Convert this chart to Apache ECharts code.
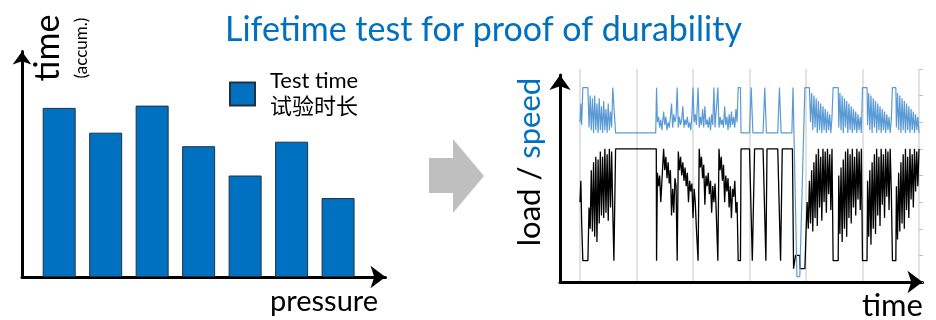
<!DOCTYPE html>
<html>
<head>
<meta charset="utf-8">
<script src="https://cdn.jsdelivr.net/npm/echarts@6/dist/echarts.min.js"></script>
<style>
  html, body { margin: 0; padding: 0; background: #fff; }
  #chart { width: 936px; height: 320px; }
</style>
</head>
<body>
<div id="chart"></div>
<script>
// left: accumulated test time per pressure level
const pressureLevels = [1, 2, 3, 4, 5, 6, 7];
const testTime = [75, 64, 76, 58, 45, 60, 35];

// right: load / speed signal over time, [time, value]
const loadPoints = [
  [0, 30], [0.15, 38], [0.3, 22], [0.5, 8], [1.4, 8], [1.6, 28], [1.8, 20], [2.0, 42], [2.2, 19], [2.4, 45],
  [2.6, 17], [2.8, 47], [3.0, 15], [3.2, 46], [3.4, 22], [3.6, 49], [3.8, 25], [4.0, 47], [4.2, 24], [4.4, 50],
  [4.6, 26], [4.8, 48], [5.0, 23], [5.2, 50], [5.4, 28], [5.6, 49], [5.8, 27], [6.0, 8], [6.2, 8], [6.3, 50],
  [13.5, 50], [13.55, 8], [13.7, 41],
  [13.9, 36], [14.1, 40], [14.3, 30], [14.5, 38], [14.8, 50], [15.0, 42], [15.2, 47], [15.4, 39], [15.6, 45], [15.8, 37],
  [16.0, 42], [16.2, 25], [16.4, 35], [16.6, 26], [16.8, 39], [17.0, 36], [17.2, 8], [17.4, 49], [17.6, 42], [17.8, 47],
  [18.0, 40], [18.2, 45], [18.4, 38], [18.6, 43], [18.8, 36], [19.0, 41], [19.2, 30], [19.4, 38], [19.6, 34], [19.8, 37],
  [20.0, 24], [20.2, 35], [20.4, 30], [20.6, 20], [20.9, 8], [21.1, 50], [21.3, 43], [21.5, 47], [21.7, 39], [21.9, 44],
  [22.1, 29], [22.3, 40], [22.5, 36], [22.7, 41], [22.9, 33], [23.1, 38], [23.3, 26], [23.5, 36], [23.7, 30], [23.9, 37],
  [24.1, 27], [24.4, 8], [24.6, 50], [24.8, 42], [25.0, 47], [25.2, 38], [25.4, 44], [25.6, 30], [25.8, 40], [26.0, 34],
  [26.2, 39], [26.4, 28], [26.6, 36], [26.8, 24], [27.0, 35], [27.2, 32], [27.4, 38], [27.6, 26], [27.8, 30], [28.0, 8],
  [28.4, 8], [28.5, 50],
  [30.0, 50], [30.5, 8], [30.8, 8], [30.9, 50], [32.4, 50], [32.9, 8], [33.0, 8], [33.1, 50], [35.0, 50], [35.5, 8],
  [35.7, 8], [35.8, 50], [37.6, 50], [37.8, 5], [38.1, 5], [38.15, 10], [38.9, 10], [38.95, 5], [39.8, 5], [40.0, 18],
  [40.2, 30],
  [40.4, 20], [40.6, 38], [40.8, 22], [41.0, 42], [41.2, 19], [41.4, 45], [41.6, 24], [41.8, 48], [42.0, 21], [42.2, 50],
  [42.4, 28], [42.6, 47], [42.8, 23], [43.0, 50], [43.2, 30], [43.4, 49], [43.6, 26], [43.8, 50], [44.0, 33], [44.2, 48],
  [44.4, 27], [44.6, 50], [44.8, 8], [45.7, 8],
  [45.8, 40], [46.0, 18], [46.2, 43], [46.4, 15], [46.6, 46], [46.8, 20], [47.0, 49], [47.2, 17], [47.4, 50], [47.6, 24],
  [47.8, 48], [48.0, 22], [48.2, 50], [48.4, 28], [48.6, 47], [48.8, 25], [49.0, 50], [49.2, 31], [49.4, 49], [49.6, 27],
  [49.8, 50], [50.0, 8], [50.8, 8],
  [50.9, 38], [51.1, 17], [51.3, 42], [51.5, 14], [51.7, 45], [51.9, 20], [52.1, 48], [52.3, 18], [52.5, 50], [52.7, 25],
  [52.9, 47], [53.1, 21], [53.3, 50], [53.5, 29], [53.7, 48], [53.9, 24], [54.1, 50], [54.3, 32], [54.5, 49], [54.7, 27],
  [54.9, 50], [55.1, 34], [55.3, 8], [55.9, 8],
  [56.0, 36], [56.2, 16], [56.4, 41], [56.6, 19], [56.8, 45], [57.0, 22], [57.2, 48], [57.4, 20], [57.6, 50], [57.8, 27],
  [58.0, 47], [58.2, 24], [58.4, 50], [58.6, 31], [58.8, 48], [59.0, 28], [59.2, 50], [59.4, 34], [59.6, 49], [59.8, 36],
  [60.0, 50]
];

const speedPoints = [
  [0, 60], [0.15, 67], [0.3, 59], [0.5, 73], [1.4, 73], [1.6, 58], [1.8, 70], [2.0, 57], [2.2, 69], [2.4, 56],
  [2.6, 70], [2.8, 57], [3.0, 67], [3.2, 56], [3.4, 69], [3.6, 57], [3.8, 66], [4.0, 56], [4.2, 68], [4.4, 57],
  [4.6, 65], [4.8, 56], [5.0, 67], [5.2, 57], [5.4, 64], [5.6, 58], [5.8, 73], [6.1, 73], [6.3, 56],
  [13.4, 56], [13.55, 73], [13.7, 60],
  [13.9, 62], [14.1, 58], [14.3, 61], [14.5, 57], [14.8, 64], [15.0, 59], [15.2, 62], [15.4, 57], [15.6, 60], [15.8, 58],
  [16.0, 62], [16.2, 67], [16.4, 58], [16.6, 63], [16.8, 60], [17.0, 62], [17.2, 73], [17.4, 58], [17.6, 62], [17.8, 59],
  [18.0, 61], [18.2, 66], [18.4, 58], [18.6, 61], [18.8, 59], [19.0, 62], [19.2, 58], [19.4, 60], [19.6, 57], [19.8, 62],
  [20.0, 73], [20.2, 60], [20.4, 63], [20.6, 59], [20.9, 73], [21.1, 58], [21.3, 62], [21.5, 59], [21.7, 65], [21.9, 58],
  [22.1, 66], [22.3, 59], [22.5, 61], [22.7, 58], [22.9, 62], [23.1, 57], [23.3, 63], [23.5, 59], [23.7, 73], [23.9, 58],
  [24.1, 64], [24.4, 73], [24.6, 58], [24.8, 62], [25.0, 59], [25.2, 61], [25.4, 58], [25.6, 66], [25.8, 59], [26.0, 62],
  [26.2, 57], [26.4, 63], [26.6, 58], [26.8, 64], [27.0, 59], [27.2, 62], [27.4, 58], [27.6, 65], [27.8, 60], [28.0, 73],
  [28.4, 73], [28.5, 56],
  [30.0, 56], [30.3, 73], [30.6, 56], [32.4, 56], [32.7, 73], [33.0, 56], [35.0, 56], [35.3, 73], [35.6, 56], [37.5, 56],
  [37.7, 73], [38.4, 2], [38.9, 2], [39.8, 73], [40.6, 73],
  [40.8, 60], [41.0, 71], [41.2, 57], [41.4, 70], [41.6, 58], [41.8, 69], [42.0, 56], [42.2, 68], [42.4, 57], [42.6, 67],
  [42.8, 56], [43.0, 66], [43.2, 57], [43.4, 65], [43.6, 56], [43.8, 64], [44.0, 57], [44.2, 63], [44.4, 56], [44.6, 62],
  [44.8, 73], [45.7, 73],
  [45.8, 58], [46.0, 71], [46.2, 57], [46.4, 70], [46.6, 56], [46.8, 69], [47.0, 58], [47.2, 68], [47.4, 56], [47.6, 67],
  [47.8, 57], [48.0, 66], [48.2, 56], [48.4, 65], [48.6, 57], [48.8, 64], [49.0, 56], [49.2, 63], [49.4, 57], [49.6, 62],
  [49.8, 56], [50.0, 73], [50.8, 73],
  [50.9, 59], [51.1, 71], [51.3, 57], [51.5, 70], [51.7, 56], [51.9, 69], [52.1, 58], [52.3, 68], [52.5, 56], [52.7, 67],
  [52.9, 57], [53.1, 66], [53.3, 56], [53.5, 65], [53.7, 57], [53.9, 64], [54.1, 56], [54.3, 63], [54.5, 57], [54.7, 62],
  [54.9, 56], [55.1, 61], [55.3, 73], [55.9, 73],
  [56.0, 58], [56.2, 71], [56.4, 57], [56.6, 70], [56.8, 56], [57.0, 69], [57.2, 57], [57.4, 68], [57.6, 56], [57.8, 67],
  [58.0, 57], [58.2, 66], [58.4, 56], [58.6, 65], [58.8, 57], [59.0, 64], [59.2, 56], [59.4, 63], [59.6, 57], [59.8, 62],
  [60.0, 56]
];

const FONT = 'Lato, "Noto Sans CJK SC", sans-serif';
const BLUE = '#0070C0';

const chart = echarts.init(document.getElementById('chart'), null, { renderer: 'canvas' });

// plain axis with an arrow at the end, nothing else
function arrowAxis(gridIndex, size) {
  return {
    gridIndex: gridIndex,
    type: 'value',
    min: 0,
    max: 1,
    axisLine: {
      show: true,
      onZero: false,
      symbol: ['none', 'arrow'],
      symbolSize: size,
      lineStyle: { color: '#000', width: 3 }
    },
    axisTick: { show: false },
    axisLabel: { show: false },
    splitLine: { show: false }
  };
}

chart.setOption({
  animation: false,
  title: {
    text: 'Lifetime test for proof of durability',
    left: 220,
    top: 8,
    textStyle: { color: BLUE, fontSize: 34, fontWeight: 'normal', fontFamily: FONT }
  },
  legend: {
    left: 224,
    top: 63,
    icon: 'rect',
    itemWidth: 25,
    itemHeight: 23,
    textStyle: { fontSize: 22, lineHeight: 26, color: '#000', fontFamily: FONT, padding: [0, 0, 0, 10] },
    data: ['Test time\n试验时长']
  },
  grid: [
    { left: 22, top: 51.5, right: 550.5, bottom: 43 },
    { left: 560, top: 75, right: 13.5, bottom: 38 },
    { left: 580, top: 69, right: 17, bottom: 38 }
  ],
  xAxis: [
    {
      gridIndex: 0,
      type: 'value',
      min: 0.2,
      max: 8.02,
      axisLine: {
        show: true,
        onZero: false,
        symbol: ['none', 'arrow'],
        symbolSize: [17, 15],
        lineStyle: { color: '#000', width: 3 }
      },
      axisTick: { show: false },
      axisLabel: { show: false },
      splitLine: { show: false }
    },
    arrowAxis(1, [17, 15]),
    {
      gridIndex: 2,
      type: 'value',
      min: 0,
      max: 60,
      interval: 10,
      axisLine: { show: false },
      axisTick: { show: false },
      axisLabel: { show: false },
      splitLine: { show: true, lineStyle: { color: '#d9d9d9', width: 1.5 } }
    }
  ],
  yAxis: [
    {
      gridIndex: 0,
      type: 'value',
      min: 0,
      max: 100,
      axisLine: {
        show: true,
        onZero: false,
        symbol: ['none', 'arrow'],
        symbolSize: [14, 13],
        lineStyle: { color: '#000', width: 3 }
      },
      axisTick: { show: false },
      axisLabel: { show: false },
      splitLine: { show: false }
    },
    arrowAxis(1, [16, 15]),
    {
      gridIndex: 2,
      type: 'value',
      min: 0,
      max: 80,
      interval: 10,
      axisLine: { show: false },
      axisTick: { show: false },
      axisLabel: { show: false },
      splitLine: { show: false }
    },
    {
      gridIndex: 2,
      type: 'value',
      position: 'right',
      min: 0,
      max: 80,
      interval: 10,
      axisLine: { show: false },
      axisTick: { show: true, length: 4, lineStyle: { color: '#bfbfbf', width: 1 } },
      axisLabel: { show: false },
      splitLine: { show: false }
    }
  ],
  series: [
    {
      name: 'Test time\n试验时长',
      type: 'bar',
      xAxisIndex: 0,
      yAxisIndex: 0,
      barWidth: 33,
      itemStyle: { color: BLUE, borderColor: '#22313f', borderWidth: 1 },
      data: pressureLevels.map((p, i) => [p, testTime[i]])
    },
    {
      name: 'load',
      type: 'line',
      xAxisIndex: 2,
      yAxisIndex: 2,
      symbol: 'none',
      lineStyle: { color: '#000', width: 1.3 },
      data: loadPoints
    },
    {
      name: 'speed',
      type: 'line',
      xAxisIndex: 2,
      yAxisIndex: 2,
      symbol: 'none',
      lineStyle: { color: '#5B9BD5', width: 1.2 },
      data: speedPoints
    }
  ],
  graphic: [
    {
      // grey arrow between the two charts
      type: 'polygon',
      shape: { points: [[429, 158], [453, 158], [453, 139], [484, 176], [453, 213], [453, 193], [429, 193]] },
      style: { fill: '#bfbfbf' }
    },
    {
      type: 'text', x: 48, y: 48, rotation: Math.PI / 2,
      style: { text: 'time', font: '34px ' + FONT, fill: '#000', align: 'center', verticalAlign: 'middle' }
    },
    {
      type: 'text', x: 82, y: 48, rotation: Math.PI / 2,
      style: { text: '(accum.)', font: '17px ' + FONT, fill: '#000', align: 'center', verticalAlign: 'middle' }
    },
    {
      type: 'text', x: 270, y: 302,
      style: { text: 'pressure', font: '29px ' + FONT, fill: '#000', align: 'left', verticalAlign: 'middle' }
    },
    {
      type: 'text', x: 530, y: 162, rotation: Math.PI / 2,
      style: {
        text: '{a|load / }{b|speed}',
        align: 'center',
        verticalAlign: 'middle',
        rich: {
          a: { font: '31px ' + FONT, fill: '#000' },
          b: { font: '31px ' + FONT, fill: BLUE }
        }
      }
    },
    {
      type: 'text', x: 862, y: 306,
      style: { text: 'time', font: '31px ' + FONT, fill: '#000', align: 'left', verticalAlign: 'middle' }
    }
  ]
});
</script>
</body>
</html>
